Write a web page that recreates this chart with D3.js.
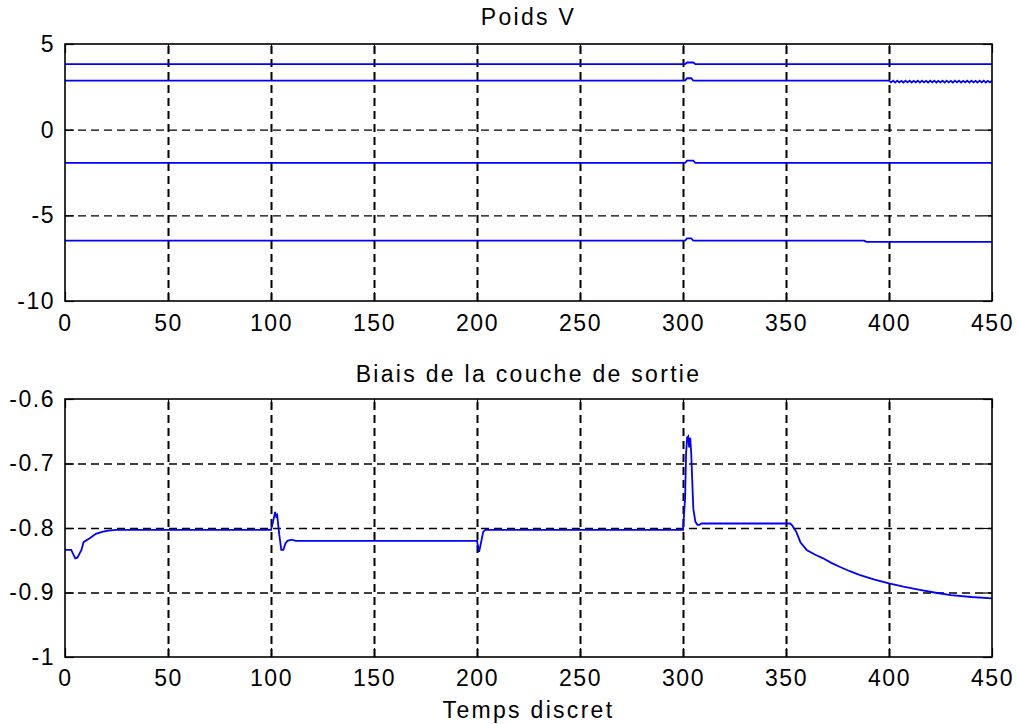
<!DOCTYPE html>
<html>
<head>
<meta charset="utf-8">
<title>Poids V / Biais de la couche de sortie</title>
<style>
  body { margin: 0; background: #fff; }
  svg { display: block; }
  text { font-family: "Liberation Sans", Arial, sans-serif; font-size: 23px; letter-spacing: 1.5px; fill: #000; }
  text.label { letter-spacing: 2.3px; }
  .domain { display: none; }
  .tick line { stroke: #000; stroke-width: 1.2; }
  .grid .tick line { stroke: #000; stroke-dasharray: 8,5; }
  .gridx .tick line { stroke-width: 2; }
  .gridy .tick line { stroke-width: 1.4; }
  .frame { fill: none; stroke: #000; stroke-width: 1.6; }
  .curve { fill: none; stroke: #0000ff; stroke-width: 1.8; }
</style>
<script src="https://d3js.org/d3.v7.min.js"></script>
</head>
<body>
<svg id="chart" width="1019" height="724"></svg>
<script>
// x ticks shared by both panels
const xTicks = [0, 50, 100, 150, 200, 250, 300, 350, 400, 450];
const yTicksTop = [5, 0, -5, -10];
const yTicksBottom = [-0.6, -0.7, -0.8, -0.9, -1];

// Poids V : four weights, [t, value]
const weight1 = [[0, 3.82], [301, 3.82], [302, 3.92], [305, 3.92], [306, 3.82], [450, 3.82]];
const weight2Head = [[0, 2.86], [301, 2.86], [302, 3.0], [304, 3.0], [305, 2.86], [400, 2.86]];
// after t=400 the weight chatters between two levels
const weight2Tail = [2.76, 2.86, 2.75, 2.86, 2.76, 2.85, 2.75, 2.86, 2.76, 2.86,
                     2.75, 2.85, 2.76, 2.86, 2.75, 2.86, 2.76, 2.85, 2.75, 2.86,
                     2.76, 2.86, 2.75, 2.85, 2.76, 2.86, 2.75, 2.86, 2.76, 2.85,
                     2.75, 2.86, 2.76, 2.86, 2.75, 2.85, 2.76, 2.86, 2.75, 2.86,
                     2.76, 2.85, 2.75, 2.86, 2.76, 2.86, 2.75, 2.85, 2.76, 2.86];
const weight3 = [[0, -1.94], [301, -1.94], [302, -1.81], [305, -1.81], [306, -1.94], [450, -1.94]];
const weight4 = [[0, -6.48], [301, -6.48], [302, -6.35], [304, -6.35], [305, -6.48], [388, -6.48], [389, -6.55], [450, -6.55]];

// Biais de la couche de sortie
const bias = [
  [0, -0.834], [3, -0.834], [5, -0.847], [6, -0.846], [8, -0.834], [9, -0.822], [12, -0.816],
  [15, -0.809], [18, -0.806], [21, -0.804], [25, -0.803], [100, -0.803], [101, -0.79],
  [102, -0.775], [102.5, -0.782], [103, -0.78], [104, -0.81], [105, -0.834], [106, -0.834],
  [107, -0.824], [108, -0.82], [110, -0.818], [112, -0.82], [200, -0.82], [201, -0.837],
  [202, -0.822], [203, -0.806], [204, -0.803], [300, -0.803], [301, -0.755], [301.5, -0.685],
  [302, -0.66], [302.5, -0.658], [303, -0.675], [303.5, -0.66], [304, -0.685], [305, -0.77],
  [306, -0.79], [307, -0.795], [308, -0.795], [309, -0.793], [352, -0.793], [353, -0.796],
  [355, -0.806], [357, -0.822], [360, -0.834], [364, -0.841], [368, -0.847], [372, -0.854],
  [376, -0.86], [381, -0.867], [386, -0.873], [393, -0.88], [400, -0.886], [407, -0.891],
  [415, -0.896], [422, -0.9], [430, -0.904], [440, -0.907], [450, -0.909]
];

const weight2 = weight2Head.concat(weight2Tail.map((v, i) => [401 + i, v]));

const svg = d3.select("#chart");
const left = 65, right = 992;
const plain = d => String(d);   // hyphen minus, like the original

function panel(top, bottom, yDomain, yTicks, series, title, titleY, xPad) {
  const x = d3.scaleLinear().domain([0, 450]).range([left, right]);
  const y = d3.scaleLinear().domain(yDomain).range([bottom, top]);
  const h = bottom - top, w = right - left;
  const g = svg.append("g");

  g.append("g").attr("class", "grid gridx")
    .attr("transform", `translate(0,${bottom})`)
    .call(d3.axisBottom(x).tickValues(xTicks.slice(1, -1)).tickSize(-h).tickFormat(""));
  g.append("g").attr("class", "grid gridy")
    .attr("transform", `translate(${left},0)`)
    .call(d3.axisLeft(y).tickValues(yTicks.slice(1, -1)).tickSize(-w).tickFormat(""));

  const line = d3.line().x(d => x(d[0])).y(d => y(d[1]));
  series.forEach(s => {
    g.append("path").datum(s).attr("class", "curve").attr("d", line);
  });

  g.append("g").attr("transform", `translate(0,${bottom})`)
    .call(d3.axisBottom(x).tickValues(xTicks).tickSize(-9).tickPadding(xPad).tickFormat(plain));
  g.append("g").attr("transform", `translate(0,${top})`)
    .call(d3.axisTop(x).tickValues(xTicks).tickSize(-9).tickFormat(""));
  g.append("g").attr("transform", `translate(${left},0)`)
    .call(d3.axisLeft(y).tickValues(yTicks).tickSize(-9).tickPadding(10).tickFormat(plain));
  g.append("g").attr("transform", `translate(${right},0)`)
    .call(d3.axisRight(y).tickValues(yTicks).tickSize(-9).tickFormat(""));

  g.selectAll("g").attr("font-size", null).attr("font-family", null);

  g.append("rect").attr("class", "frame")
    .attr("x", left).attr("y", top).attr("width", w).attr("height", h);

  g.append("text").attr("class", "label")
    .attr("x", (left + right) / 2).attr("y", titleY)
    .attr("text-anchor", "middle").text(title);
  return x;
}

panel(44, 301, [-10, 5], yTicksTop, [weight1, weight2, weight3, weight4], "Poids V", 25, 14);
panel(399, 657, [-1, -0.6], yTicksBottom, [bias], "Biais de la couche de sortie", 382, 13);

svg.append("text").attr("class", "label")
  .attr("x", (left + right) / 2).attr("y", 718)
  .attr("text-anchor", "middle").text("Temps discret");
</script>
</body>
</html>
